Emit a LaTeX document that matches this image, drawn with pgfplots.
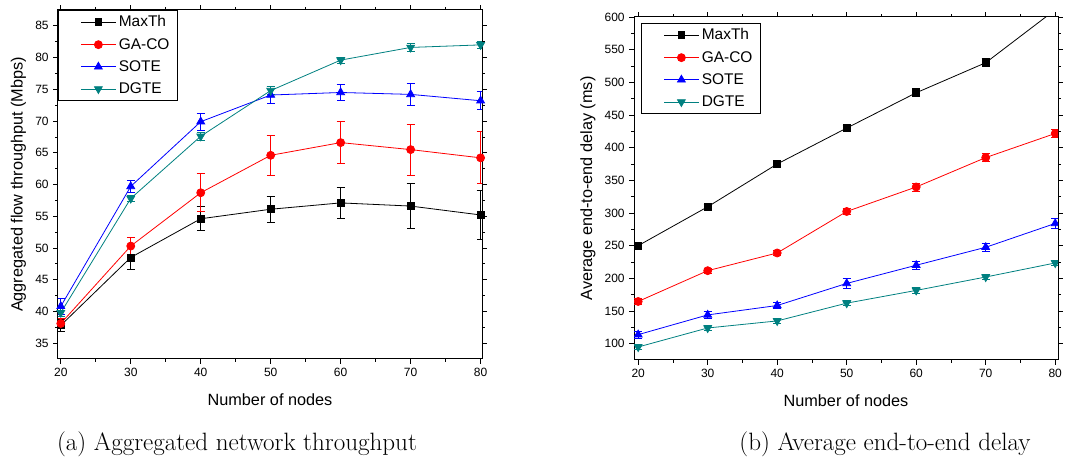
\documentclass[border=0pt]{standalone}
\usepackage{fontspec}
\usepackage{pgfplots}
\pgfplotsset{compat=1.18}
\usepackage{pgfplotstable}
\newfontfamily\arial{Liberation Sans}
\definecolor{dgte}{RGB}{0,128,128}

\pgfplotstableread{
x y e
20 37.8 1.0
30 48.5 1.9
40 54.6 1.9
50 56.1 2.1
60 57.1 2.5
70 56.6 3.5
80 55.2 3.9
}\thrMax
\pgfplotstableread{
x y e
20 38.1 0.8
30 50.3 1.4
40 58.7 3.0
50 64.6 3.2
60 66.6 3.3
70 65.5 4.0
80 64.2 4.1
}\thrGA
\pgfplotstableread{
x y e
20 40.8 1.2
30 59.7 1.0
40 69.9 1.3
50 74.1 1.3
60 74.5 1.3
70 74.2 1.8
80 73.2 1.4
}\thrSOTE
\pgfplotstableread{
x y e
20 39.8 0.6
30 57.8 0.5
40 67.6 0.6
50 74.8 0.6
60 79.6 0.5
70 81.6 0.6
80 82.0 0.5
}\thrDGTE

\pgfplotstableread{
x y e
20 250 4
30 309.5 4
40 375 4
50 430 4
60 484 6
70 530 6
80 611 6
}\delMax
\pgfplotstableread{
x y e
20 164.6 4
30 211.7 4
40 238.8 4
50 302.3 4
60 339.8 6
70 384.8 6
80 421.7 6
}\delGA
\pgfplotstableread{
x y e
20 113.8 5
30 144 6
40 158.4 5
50 192.2 7
60 220 6
70 247.5 6
80 284 8
}\delSOTE
\pgfplotstableread{
x y e
20 94.9 4
30 124 4
40 134.8 4
50 162 4
60 181.5 4
70 202 4
80 223.5 4
}\delDGTE

\pgfplotsset{
  myax/.style={
    scale only axis,
    width=318pt,
    axis line style={line width=0.75pt},
    tick align=outside,
    major tick length=3.5pt,
    minor tick length=2pt,
    tick style={line width=0.6pt, black},
    minor x tick num=1,
    minor y tick num=1,
    xtick={20,30,...,80},
    /pgf/number format/assume math mode=true,
    tick label style={font=\arial\fontsize{9}{10}\selectfont},
    label style={font=\arial\fontsize{12.2}{14}\selectfont},
    xlabel style={yshift=-6pt},
    xlabel={Number of nodes},
    legend cell align=left,
    legend style={font=\arial\fontsize{11.6}{13}\selectfont, draw=black, line width=0.6pt,
      inner xsep=4pt, inner ysep=2pt, row sep=3pt},
    legend image code/.code={\draw[draw=none, fill=none] (0pt,-0.5pt) rectangle (1pt,0.5pt); \draw[mark repeat=2,mark phase=2] plot coordinates {(13pt,0cm) (26pt,0cm) (39pt,0cm)};},
    every axis plot/.append style={line width=0.6pt},
    error bars/error bar style={line width=0.6pt},
    error bars/error mark=|,
    error bars/error mark options={mark size=3pt, line width=0.6pt},
  },
  sMax/.style={black, mark=square*, mark size=2.6pt, mark options={solid}},
  sGA/.style={red, mark=*, mark size=3pt, mark options={solid}},
  sSOTE/.style={blue, mark=triangle*, mark size=3.4pt, mark options={solid}},
  sDGTE/.style={dgte, mark=triangle*, mark size=3.4pt, mark options={solid, rotate=180}},
}

\begin{document}
\begin{tikzpicture}
\useasboundingbox (0,0) rectangle (806.25pt,344.25pt);
\begin{axis}[myax,
  at={(43.5pt,75pt)}, anchor=south west,
  height=261.75pt,
  xmin=19.6, xmax=80.2,
  ymin=32.5, ymax=87.5,
  ytick={35,40,...,85},
  ylabel={Aggregated flow throughput (Mbps)},
  legend style={at={(0,1)}, anchor=north west},
]
\addplot[sMax, error bars/.cd, y dir=both, y explicit] table[x=x,y=y,y error=e] {\thrMax};
\addplot[sGA, error bars/.cd, y dir=both, y explicit] table[x=x,y=y,y error=e] {\thrGA};
\addplot[sSOTE, error bars/.cd, y dir=both, y explicit] table[x=x,y=y,y error=e] {\thrSOTE};
\addplot[sDGTE, error bars/.cd, y dir=both, y explicit] table[x=x,y=y,y error=e] {\thrDGTE};
\legend{MaxTh,GA-CO,SOTE,DGTE}
\end{axis}

\begin{axis}[myax,
  at={(475.5pt,74.25pt)}, anchor=south west,
  height=257.25pt,
  xmin=19.4, xmax=80.4,
  ymin=75, ymax=600,
  ytick={100,150,...,600},
  ylabel={Average end-to-end delay (ms)},
  clip marker paths=true,
  legend style={at={(0.0165,0.9825)}, anchor=north west},
]
\addplot[sMax, error bars/.cd, y dir=both, y explicit] table[x=x,y=y,y error=e] {\delMax};
\addplot[sGA, error bars/.cd, y dir=both, y explicit] table[x=x,y=y,y error=e] {\delGA};
\addplot[sSOTE, error bars/.cd, y dir=both, y explicit] table[x=x,y=y,y error=e] {\delSOTE};
\addplot[sDGTE, error bars/.cd, y dir=both, y explicit] table[x=x,y=y,y error=e] {\delDGTE};
\legend{MaxTh,GA-CO,SOTE,DGTE}
\end{axis}

\node[font=\fontsize{18.8}{22}\selectfont] at (177.75pt,11.25pt) {(a) Aggregated network throughput};
\node[font=\fontsize{18.8}{22}\selectfont] at (663.75pt,11.25pt) {(b) Average end-to-end delay};
\end{tikzpicture}
\end{document}
